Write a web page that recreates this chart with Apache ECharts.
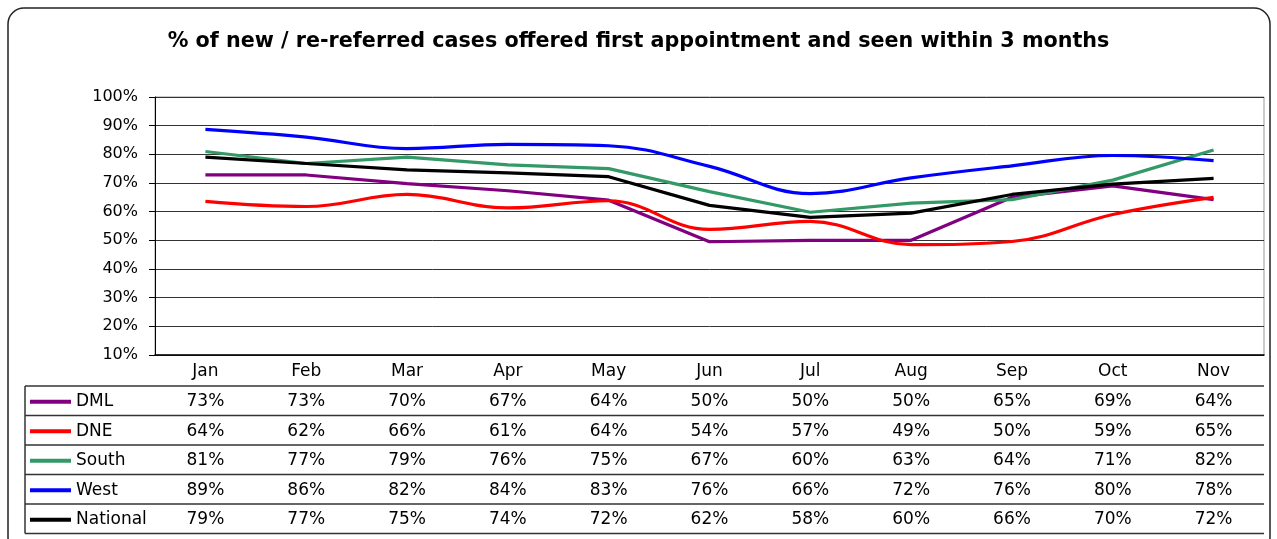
<!DOCTYPE html>
<html>
<head>
<meta charset="utf-8">
<script src="https://cdn.jsdelivr.net/npm/echarts@6/dist/echarts.min.js"></script>
<style>
  html, body { margin: 0; padding: 0; background: #fff; }
  #main { width: 1277px; height: 539px; }
</style>
</head>
<body>
<div id="main"></div>
<script>
// 月份
var months = ["Jan", "Feb", "Mar", "Apr", "May", "Jun", "Jul", "Aug", "Sep", "Oct", "Nov"];
// 各区域数据（%）
var dml = [72.8, 72.8, 69.8, 67.3, 64.0, 49.5, 50.0, 50.0, 65.0, 69.0, 64.2];
var dne = [63.6, 61.8, 66.0, 61.3, 63.8, 53.8, 56.6, 48.5, 49.6, 59.0, 65.0];
var south = [81.0, 76.8, 79.0, 76.3, 75.0, 67.0, 59.8, 63.0, 64.2, 71.0, 81.5];
var west = [88.7, 86.0, 82.0, 83.5, 83.0, 75.8, 66.3, 71.8, 76.0, 79.6, 77.8];
var national = [79.0, 76.8, 74.6, 73.5, 72.2, 62.2, 58.0, 59.5, 66.0, 69.6, 71.6];
// 表格里显示的数字
var dmlTable = [73, 73, 70, 67, 64, 50, 50, 50, 65, 69, 64];
var dneTable = [64, 62, 66, 61, 64, 54, 57, 49, 50, 59, 65];
var southTable = [81, 77, 79, 76, 75, 67, 60, 63, 64, 71, 82];
var westTable = [89, 86, 82, 84, 83, 76, 66, 72, 76, 80, 78];
var nationalTable = [79, 77, 75, 74, 72, 62, 58, 60, 66, 70, 72];
var yTicks = [10, 100, 10]; // min, max, interval

var font = "'DejaVu Sans', sans-serif";

var seriesList = [
    {name: "DML", data: dml, table: dmlTable, color: "#800080", smooth: false},
    {name: "DNE", data: dne, table: dneTable, color: "#ff0000", smooth: 0.4},
    {name: "South", data: south, table: southTable, color: "#339966", smooth: false},
    {name: "West", data: west, table: westTable, color: "#0000ff", smooth: 0.4},
    {name: "National", data: national, table: nationalTable, color: "#000000", smooth: false}
];

var tableTop = 386;
var rowH = 29.5;

var myChart = echarts.init(document.getElementById("main"));

var option = {
    animation: false,
    backgroundColor: "#fff",
    title: {
        text: "% of new / re-referred cases offered first appointment and seen within 3 months",
        left: "center",
        top: 26,
        textStyle: {fontFamily: font, fontSize: 20.7, fontWeight: "bold", color: "#000"}
    },
    legend: {
        orient: "vertical",
        left: 30,
        top: tableTop + 1,
        padding: 0,
        itemGap: 0,
        itemWidth: 41,
        itemHeight: 4,
        icon: "rect",
        textStyle: {fontFamily: font, fontSize: 17, color: "#000", lineHeight: rowH},
        data: seriesList.map(function (s) { return s.name; })
    },
    grid: {
        left: 155, right: 13, top: 97, bottom: 184,
        show: true, borderColor: "#999", borderWidth: 1
    },
    xAxis: {
        type: "category",
        data: months,
        boundaryGap: true,
        axisLine: {lineStyle: {color: "#000", width: 1.5}},
        axisTick: {length: 533.5 - 355, lineStyle: {color: "#333", width: 1.5}},
        axisLabel: {fontFamily: font, fontSize: 17, color: "#000", margin: 8}
    },
    yAxis: {
        type: "value",
        min: yTicks[0],
        max: yTicks[1],
        interval: yTicks[2],
        axisLine: {show: true, lineStyle: {color: "#000"}},
        axisTick: {show: true, length: 6, lineStyle: {color: "#000"}},
        axisLabel: {fontFamily: font, fontSize: 16, color: "#000", margin: 17, formatter: "{value}%"},
        splitLine: {lineStyle: {color: "#333", width: 1}}
    },
    series: seriesList.map(function (s) {
        return {
            name: s.name,
            type: "line",
            data: s.data,
            smooth: s.smooth,
            symbol: "none",
            color: s.color,
            lineStyle: {width: 3.2, color: s.color}
        };
    })
};

myChart.setOption(option);

// 数据表：横线和数字
var graphics = [];
var leftX = 25;
var rightX = myChart.convertToPixel({xAxisIndex: 0}, months.length - 1) +
    (myChart.convertToPixel({xAxisIndex: 0}, 1) - myChart.convertToPixel({xAxisIndex: 0}, 0)) / 2;

for (var i = 0; i <= seriesList.length; i++) {
    var y = tableTop + i * rowH;
    graphics.push({
        type: "line",
        shape: {x1: leftX, y1: y, x2: rightX, y2: y},
        style: {stroke: "#333", lineWidth: 1.5}
    });
}
graphics.push({
    type: "line",
    shape: {x1: leftX, y1: tableTop, x2: leftX, y2: tableTop + seriesList.length * rowH},
    style: {stroke: "#333", lineWidth: 1.5}
});

seriesList.forEach(function (s, r) {
    s.table.forEach(function (v, c) {
        graphics.push({
            type: "text",
            x: myChart.convertToPixel({xAxisIndex: 0}, months[c]),
            y: tableTop + r * rowH + rowH / 2 + 1,
            style: {
                text: v + "%",
                fontFamily: font,
                fontSize: 17,
                fill: "#000",
                align: "center",
                verticalAlign: "middle"
            }
        });
    });
});

// 外框
graphics.push({
    type: "rect",
    shape: {x: 8, y: 8, width: 1262, height: 545, r: 16},
    style: {fill: null, stroke: "#222", lineWidth: 1.5}
});

myChart.setOption({graphic: graphics});
</script>
</body>
</html>
